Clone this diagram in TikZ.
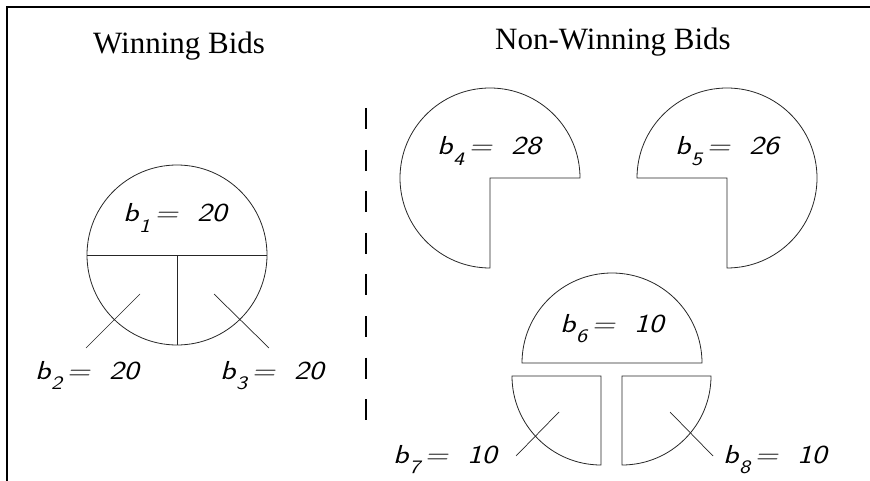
\documentclass[tikz,border=0pt]{standalone}
\usepackage{fontspec}
\usepackage{graphicx}
\setmainfont{Liberation Serif}
\newfontfamily\titlefont{Liberation Serif}
\newcommand\bidlabel[2]{{\sffamily\itshape\fontsize{26pt}{26pt}\selectfont
  \scalebox{1.22}[1]{b\kern0.02em\raisebox{-0.42em}{\fontsize{19pt}{19pt}\selectfont #1}\kern0.15em=\kern0.6em#2}}}
\tikzset{
  frameline/.style={line width=1.6pt, black},
  shapeline/.style={line width=0.8pt, black!85},
  leader/.style={line width=0.7pt, black!85},
  divider/.style={line width=1.3pt, black, dash pattern=on 21pt off 20.6pt},
  title/.style={anchor=base west, inner sep=0pt, font=\titlefont\fontsize{31pt}{31pt}\selectfont},
  bidtext/.style={anchor=base west, inner sep=0pt}
}
\begin{document}
\begin{tikzpicture}[x=1pt,y=-1pt]
\useasboundingbox (0,0) rectangle (870,481);
% frame
\coordinate (ftl) at (7,7);
\coordinate (ftr) at (870,7);
\coordinate (fbl) at (7,481);
\draw[frameline] (fbl) -- (ftl) -- (ftr);
% titles
\node[title] (tw) at (93,54) {Winning Bids};
\node[title] (tn) at (495,50) {Non-Winning Bids};
% divider
\coordinate (d1) at (366,108);
\coordinate (d2) at (366,420);
\draw[divider] (d1) -- (d2);
% winning circle
\coordinate (c1) at (177,255);
\draw[shapeline] (c1) circle[radius=90pt];
\draw[shapeline] (87,255) -- (267,255);
\draw[shapeline] (c1) -- (177,345);
\coordinate (l2a) at (86,348); \coordinate (l2b) at (140,294);
\coordinate (l3a) at (214,294); \coordinate (l3b) at (269,348);
\draw[leader] (l2a) -- (l2b);
\draw[leader] (l3a) -- (l3b);
\node[bidtext] (b1) at (123,222) {\bidlabel{1}{20}};
\node[bidtext] (b2) at (35,379) {\bidlabel{2}{20}};
\node[bidtext] (b3) at (220,379) {\bidlabel{3}{20}};
% b4 shape
\draw[shapeline] (580,178) arc[start angle=0,end angle=270,radius=90pt] -- (490,178) -- cycle;
\node[bidtext] (b4) at (437,155) {\bidlabel{4}{28}};
% b5 shape
\draw[shapeline] (637,178) arc[start angle=180,end angle=-90,radius=90pt] -- (727,178) -- cycle;
\node[bidtext] (b5) at (675,155) {\bidlabel{5}{26}};
% b6 half
\draw[shapeline] (522,363) arc[start angle=180,end angle=0,radius=90pt] -- cycle;
\node[bidtext] (b6) at (560,332) {\bidlabel{6}{10}};
% b7 quarter
\draw[shapeline] (512,376) arc[start angle=180,end angle=270,radius=89pt] -- (601,376) -- cycle;
% b8 quarter
\draw[shapeline] (711,376) arc[start angle=0,end angle=-90,radius=89pt] -- (622,376) -- cycle;
\coordinate (l7a) at (516,456); \coordinate (l7b) at (559,412);
\coordinate (l8a) at (670,412); \coordinate (l8b) at (713,456);
\draw[leader] (l7a) -- (l7b);
\draw[leader] (l8a) -- (l8b);
\node[bidtext] (b7) at (393,463) {\bidlabel{7}{10}};
\node[bidtext] (b8) at (723,463) {\bidlabel{8}{10}};
\end{tikzpicture}
\end{document}
